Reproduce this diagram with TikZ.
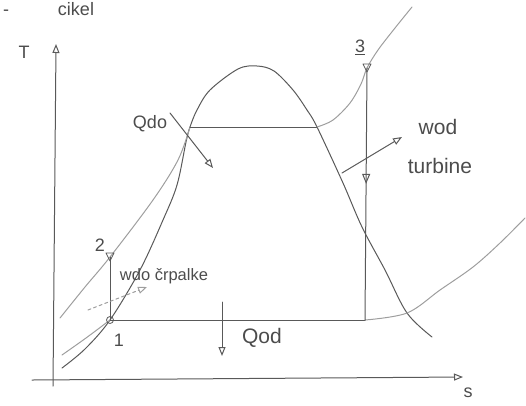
\documentclass[tikz,border=0pt]{standalone}
\usepackage{fontspec}
\setmainfont{Liberation Sans}
\usetikzlibrary{arrows.meta,decorations.markings}
\begin{document}
\begin{tikzpicture}[x=1pt,y=-1pt, line cap=round, line join=round,
  pencil/.style={draw=black!65, line width=1pt},
  faint/.style={draw=black!38, line width=1pt},
  hand/.style={text=black!70, font=\fontsize{18}{20}\selectfont, inner sep=0pt},
  big/.style={font=\fontsize{21}{23}\selectfont},
  tip/.style={-{Triangle[open,length=9pt,width=7pt]}},
  midtip/.style={postaction={decorate},
    decoration={markings, mark=at position #1 with {\arrow{Triangle[open,length=10pt,width=8pt]}}}}]
\useasboundingbox (0,0) rectangle (526,405);

% cycle points
\coordinate (p1) at (110,320);
\coordinate (p2) at (110,257);
\coordinate (p3) at (367,68);
\coordinate (p4) at (365,320);
\coordinate (a) at (190,127);
\coordinate (b) at (317,127);
\coordinate (c) at (407,313);

% axes
\coordinate (o1) at (53,386);
\coordinate (ytop) at (56,44);
\coordinate (xl) at (32,380);
\coordinate (xr) at (463,377);
\draw[pencil, tip] (o1) -- (ytop);
\draw[pencil, tip] (xl) -- (xr);
\node[hand] (T) at (24,52) {T};
\node[hand] (s) at (468,393) {s};

% title (at the top edge)
\node[hand, anchor=base] (dash) at (6,15) {-};
\node[hand, anchor=base] (title) at (76,15) {cikel};

% saturation dome
\draw[pencil] plot[smooth, tension=0.55] coordinates {(62,368) (85,349) (p1) (140,270) (163,220) (177,185) (186,142) (a) (197,110) (210,90) (238,69) (257,66) (274,71) (293,90) (307,110) (b) (343,183) (362,227) (385,270) (c) (432,337)};

% high pressure isobar
\draw[faint] plot[smooth, tension=0.55] coordinates {(60,318) (85,287) (p2) (153,200) (178,160) (a)};
\draw[pencil] (a) -- (b);
\draw[faint] plot[smooth, tension=0.55] coordinates {(b) (333,120) (350,103) (361,84) (p3) (378,50) (395,28) (412,7)};

% low pressure isobar
\draw[faint] plot[smooth, tension=0.55] coordinates {(62,355) (86,338) (p1)};
\draw[pencil] (p1) -- (p4);
\draw[faint] plot[smooth, tension=0.55] coordinates {(p4) (c) (440,290) (473,267) (500,243) (525,218)};

% pump and turbine
\draw[pencil] (p1) -- (p2);
\draw[pencil, midtip=0.46] (p3) -- (p4);

% point markers
\draw[pencil, line width=0.8pt] ([shift={(-4,-4)}]p2) -- ([shift={(4,-4)}]p2) -- ([shift={(0,4)}]p2) -- cycle;
\draw[pencil, line width=0.8pt] ([shift={(-4,-4)}]p3) -- ([shift={(4,-4)}]p3) -- ([shift={(0,4)}]p3) -- cycle;
\draw[pencil, line width=0.8pt] (p1) circle[radius=3.5];

% point labels
\node[hand] (l1) at (119,340) {1};
\node[hand] (l2) at (100,245) {2};
\node[hand] (l3) at (360,47) {\underline{3}};

% heat in
\node[hand] (qdo) at (150,124) {Qdo};
\coordinate (qdos) at (170,113);
\coordinate (qdoe) at (213,168);
\draw[pencil, tip] (qdos) -- (qdoe);

% pump work
\node[hand, font=\fontsize{16.5}{18}\selectfont] (wdo) at (164,276) {wdo črpalke};
\coordinate (wdos) at (88,310);
\coordinate (wdoe) at (147,287);
\draw[faint, dashed, tip] (wdos) -- (wdoe);

% heat out
\node[hand, big] (qod) at (262,338) {Qod};
\coordinate (qods) at (222,302);
\coordinate (qode) at (222,356);
\draw[pencil, tip] (qods) -- (qode);

% turbine work
\node[hand, big] (wod) at (438,127) {wod};
\node[hand, big] (turb) at (440,166) {turbine};
\coordinate (wods) at (342,173);
\coordinate (wode) at (402,137);
\draw[pencil, tip] (wods) -- (wode);
\end{tikzpicture}
\end{document}
